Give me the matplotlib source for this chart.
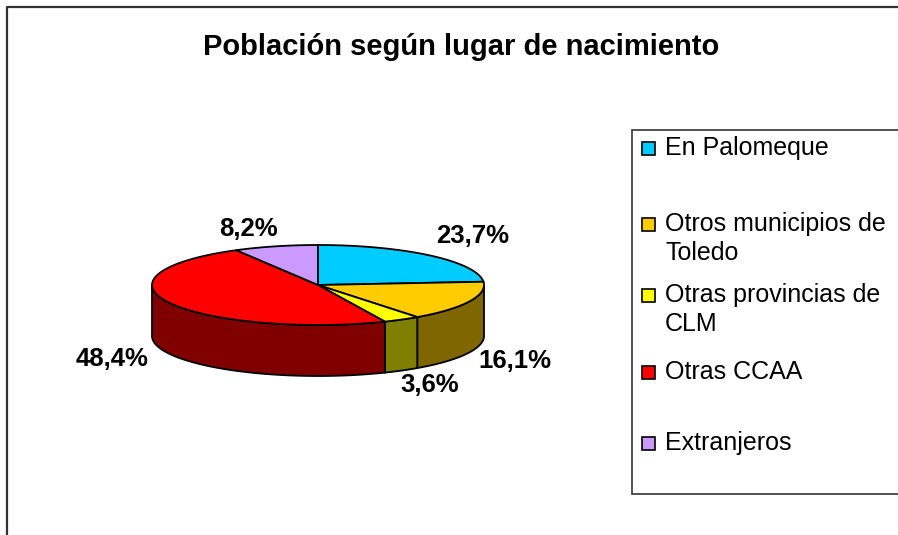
import numpy as np
import matplotlib.pyplot as plt
from matplotlib.patches import Polygon, Rectangle

plt.rcParams['font.family'] = ['Liberation Sans', 'DejaVu Sans']

labels = ['En Palomeque', 'Otros municipios de\nToledo', 'Otras provincias de\nCLM',
          'Otras CCAA', 'Extranjeros']
values = [23.7, 16.1, 3.6, 48.4, 8.2]
top_colors = ['#00CCFF', '#FFCC00', '#FFFF00', '#FF0000', '#CC99FF']
side_colors = ['#006680', '#806600', '#808000', '#800000', '#664C80']
pct_text = ['23,7%', '16,1%', '3,6%', '48,4%', '8,2%']

# layout (pixels)
W, H = 898, 535
cx, cy, rx, ry, depth = 318, 285, 166, 40, 51
label_pos = [(473, 236), (515, 361), (430, 385), (112, 359), (248, 229)]

fig = plt.figure(figsize=(W / 100, H / 100), dpi=100)
ax = fig.add_axes([0, 0, 1, 1])
ax.set_xlim(0, W)
ax.set_ylim(H, 0)
ax.axis('off')

# chart frame
ax.plot([7, 7, W + 5], [H + 5, 7, 7], color='#333333', lw=1.6)


def pt(theta, dy=0):
    return cx + rx * np.sin(theta), cy - ry * np.cos(theta) + dy


fracs = np.array(values) / sum(values)
edges = np.concatenate([[0], np.cumsum(fracs)]) * 2 * np.pi

# visible sides (front half)
for i in range(len(values)):
    a0, a1 = max(edges[i], np.pi / 2), min(edges[i + 1], 3 * np.pi / 2)
    if a1 <= a0:
        continue
    t = np.linspace(a0, a1, 80)
    xs, ys = pt(t)
    xb, yb = pt(t[::-1], depth)
    poly = np.column_stack([np.concatenate([xs, xb]), np.concatenate([ys, yb])])
    ax.add_patch(Polygon(poly, closed=True, fc=side_colors[i], ec='black', lw=1.3))

# tops
for i in range(len(values)):
    t = np.linspace(edges[i], edges[i + 1], 120)
    xs, ys = pt(t)
    poly = np.column_stack([np.concatenate([[cx], xs]), np.concatenate([[cy], ys])])
    ax.add_patch(Polygon(poly, closed=True, fc=top_colors[i], ec='black', lw=1.3))

for (x, y), s in zip(label_pos, pct_text):
    ax.text(x, y, s, fontsize=18.5, fontweight='bold', ha='center', va='center')

ax.text(461, 47, 'Población según lugar de nacimiento', fontsize=21, fontweight='bold',
        ha='center', va='center')

# legend
ax.add_patch(Rectangle((632, 130), 300, 364, fc='white', ec='#333333', lw=1.2))
leg_y = [146, 222, 293, 370, 441]
for y, lab, c in zip(leg_y, labels, top_colors):
    ax.add_patch(Rectangle((641.5, y - 4.5), 13, 13, fc=c, ec='black', lw=1.2))
    ax.text(665, y - 10, lab, fontsize=18, ha='left', va='top', linespacing=1.25)

plt.savefig('out.png', dpi=100)
